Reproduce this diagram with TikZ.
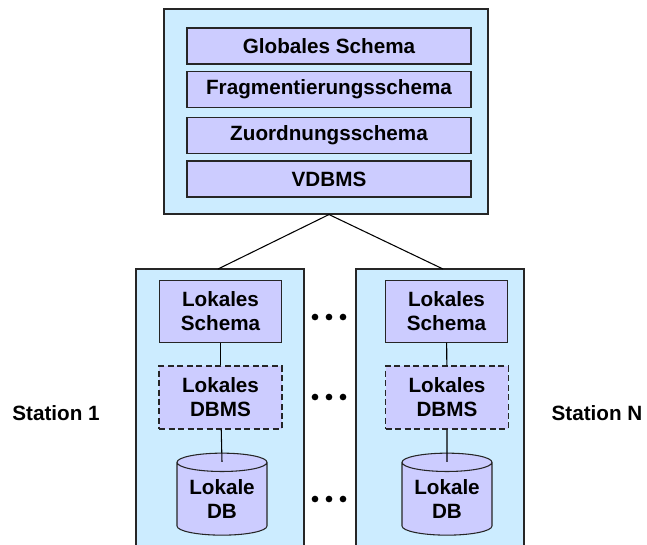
\documentclass[tikz,border=0pt]{standalone}
\usepackage{fontspec}
\setmainfont{Liberation Sans}
\usetikzlibrary{shapes.geometric}

\definecolor{stationblue}{HTML}{CCECFF}
\definecolor{layerlila}{HTML}{CCCCFF}

\begin{document}
\begin{tikzpicture}[
  x=0.75pt, y=-0.75pt,
  every node/.style = {font=\fontsize{15.5}{18}\selectfont\bfseries},
  frame/.style = {draw=black!85, fill=stationblue, line width=0.8pt},
  layer/.style = {draw=black!85, fill=layerlila, line width=0.8pt,
                  minimum width=213pt, minimum height=27pt, inner sep=0pt},
  part/.style  = {draw=black!85, fill=layerlila, line width=0.8pt,
                  minimum width=92pt, minimum height=46pt, inner sep=0pt,
                  align=center},
  loose/.style = {line width=1.1pt, dash pattern=on 4.5pt off 2.6pt},
  disk/.style  = {cylinder, shape border rotate=90, aspect=0.28,
                  draw=black!85, fill=layerlila, line width=0.8pt,
                  minimum width=67.5pt, minimum height=61.5pt, inner sep=0pt,
                  align=center},
  link/.style  = {line width=0.8pt}
]
  \useasboundingbox (0,0) rectangle (647,544);

  % global part
  \node[frame, minimum width=243pt, minimum height=153.75pt, inner sep=0pt]
        (global) at (326,111.5) {};
  \node[layer] (gs)    at (329,46)    {Globales Schema};
  \node[layer] (frag)  at (329,89.5)  {Fragmentierungsschema};
  \node[layer] (zuord) at (329,135.5) {Zuordnungsschema};
  \node[layer] (vdbms) at (329,179)   {VDBMS};

  % stations (open at the bottom edge)
  \filldraw[frame] (136,552) -- (136,269) -- (304,269) -- (304,552);
  \filldraw[frame] (356,552) -- (356,269) -- (524,269) -- (524,552);
  \coordinate (st1) at (218,269);
  \coordinate (stN) at (443,269);

  % station 1
  \node[part] (schema1) at (220.5,311.5) {Lokales\\Schema};
  \node[part, loose, minimum height=47pt] (dbms1) at (220.5,397.5) {Lokales\\DBMS};
  \node[disk] (db1) at (222,499) {Lokale\\DB};

  % station N
  \node[part] (schemaN) at (446.5,311.5) {Lokales\\Schema};
  \node[part, loose, minimum height=47pt] (dbmsN) at (447,397.5) {Lokales\\DBMS};
  \node[disk] (dbN) at (447,499) {Lokale\\DB};

  % connections
  \draw[link] (st1) -- ([xshift=2.25pt]global.south) -- (stN);
  \draw[link] (schema1) -- (dbms1);
  \draw[link] (dbms1) -- ([yshift=-7pt]db1.north);
  \draw[link] (schemaN) -- (dbmsN);
  \draw[link] (dbmsN) -- ([yshift=-7pt]dbN.north);

  % dots between the stations
  \foreach \y in {317,397,499}
    \foreach \x in {315,329,343}
      \fill (\x,\y) circle (2.5pt);

  % labels
  \node (lab1) at (56,413)  {Station 1};
  \node (labN) at (597,413) {Station N};
\end{tikzpicture}
\end{document}
